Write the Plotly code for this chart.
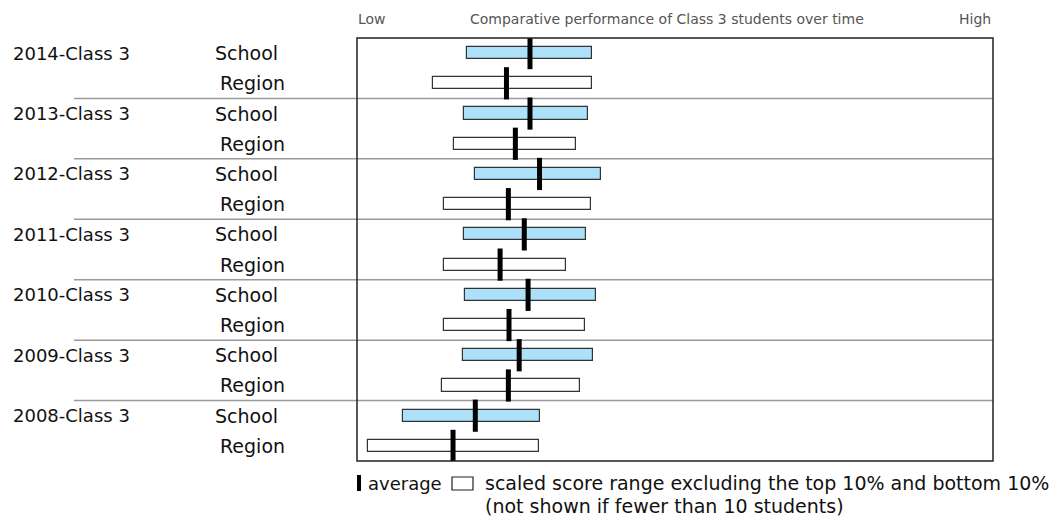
import plotly.graph_objects as go

# ---- data ----
years = ["2014", "2013", "2012", "2011", "2010", "2009", "2008"]
group_labels = [f"{y}-Class 3" for y in years]
series = ["School", "Region"]

school_low = [17.3, 16.9, 18.6, 16.8, 17.0, 16.7, 7.3]
school_high = [36.9, 36.3, 38.4, 36.0, 37.5, 37.1, 28.7]
school_avg = [27.2, 27.2, 28.7, 26.3, 26.9, 25.5, 18.6]

region_low = [11.9, 15.3, 13.6, 13.6, 13.7, 13.3, 1.8]
region_high = [36.9, 34.5, 36.8, 32.8, 35.9, 35.0, 28.6]
region_avg = [23.5, 24.9, 23.8, 22.5, 23.9, 23.8, 15.1]

header_low = "Low"
header_title = "Comparative performance of Class 3 students over time"
header_high = "High"
legend_avg = "average"
legend_range = "scaled score range excluding the top 10% and bottom 10%"
legend_note = "(not shown if fewer than 10 students)"

# ---- layout constants ----
W, H = 1053, 518
L, R, T, B = 357, 993, 38, 461
FONT = "DejaVu Sans"
BLUE = "#ADE1F9"
OUTLINE = "#333333"


def px_x(p):
    return (p - L) / (R - L)


def px_y(p):
    return (B - p) / (B - T)


n = len(years)
school_rows = [2 * i for i in range(n)]
region_rows = [2 * i + 1 for i in range(n)]

fig = go.Figure()

fig.add_trace(go.Bar(
    y=school_rows, x=[h - l for l, h in zip(school_low, school_high)], base=school_low,
    orientation="h", width=0.4, marker=dict(color=BLUE, line=dict(color=OUTLINE, width=1.2)),
    hoverinfo="skip", showlegend=False))
fig.add_trace(go.Bar(
    y=region_rows, x=[h - l for l, h in zip(region_low, region_high)], base=region_low,
    orientation="h", width=0.4, marker=dict(color="white", line=dict(color=OUTLINE, width=1.2)),
    hoverinfo="skip", showlegend=False))
fig.add_trace(go.Scatter(
    y=school_rows + region_rows, x=school_avg + region_avg, mode="markers",
    marker=dict(symbol="line-ns", size=23, line=dict(color="black", width=5)),
    hoverinfo="skip", showlegend=False))

shapes = []
annotations = []
# separators between groups
for i in range(1, n):
    yb = 2 * i - 0.5
    shapes.append(dict(type="line", xref="paper", yref="y", x0=px_x(74), x1=1, y0=yb, y1=yb,
                       line=dict(color="#9a9a9a", width=1.5), layer="below"))
# plot box
shapes.append(dict(type="rect", xref="paper", yref="paper", x0=0, x1=1, y0=0, y1=1,
                   line=dict(color="#222222", width=1.5)))

lab_font = dict(size=18, color="#111111", family=FONT)
ser_font = dict(size=19, color="#111111", family=FONT)
for i, g in enumerate(group_labels):
    annotations.append(dict(text=g, xref="paper", yref="y", x=px_x(11), y=2 * i, xanchor="left",
                            yanchor="middle", showarrow=False, font=lab_font))
    annotations.append(dict(text=series[0], xref="paper", yref="y", x=px_x(213), y=2 * i, xanchor="left",
                            yanchor="middle", showarrow=False, font=ser_font))
    annotations.append(dict(text=series[1], xref="paper", yref="y", x=px_x(218), y=2 * i + 1, xanchor="left",
                            yanchor="middle", showarrow=False, font=ser_font))

hdr_font = dict(size=14, color="#555555", family=FONT)
annotations += [
    dict(text=header_low, xref="paper", yref="paper", x=px_x(356), y=px_y(19), xanchor="left",
         yanchor="middle", showarrow=False, font=hdr_font),
    dict(text=header_title, xref="paper", yref="paper", x=px_x(468), y=px_y(19), xanchor="left",
         yanchor="middle", showarrow=False, font=hdr_font),
    dict(text=header_high, xref="paper", yref="paper", x=1, y=px_y(19), xanchor="right",
         yanchor="middle", showarrow=False, font=hdr_font),
]

# legend
avg_font = dict(size=18, color="#111111", family=FONT)
leg_font = dict(size=19, color="#111111", family=FONT)
shapes.append(dict(type="rect", xref="paper", yref="paper", x0=px_x(357), x1=px_x(361),
                   y0=px_y(491), y1=px_y(475), fillcolor="black", line=dict(width=0)))
shapes.append(dict(type="rect", xref="paper", yref="paper", x0=px_x(452), x1=px_x(473),
                   y0=px_y(490), y1=px_y(477), fillcolor="white", line=dict(color="#222222", width=1.2)))
annotations += [
    dict(text=legend_avg, xref="paper", yref="paper", x=px_x(366), y=px_y(483), xanchor="left",
         yanchor="middle", showarrow=False, font=avg_font),
    dict(text=legend_range, xref="paper", yref="paper", x=px_x(483), y=px_y(483), xanchor="left",
         yanchor="middle", showarrow=False, font=leg_font),
    dict(text=legend_note, xref="paper", yref="paper", x=px_x(483), y=px_y(506), xanchor="left",
         yanchor="middle", showarrow=False, font=leg_font),
]

fig.update_layout(
    width=W, height=H,
    margin=dict(l=L, r=W - R, t=T, b=H - B, pad=0),
    paper_bgcolor="white", plot_bgcolor="white",
    xaxis=dict(range=[0, 100], visible=False, fixedrange=True),
    yaxis=dict(range=[2 * n - 0.5, -0.5], visible=False, fixedrange=True),
    shapes=shapes, annotations=annotations, bargap=0,
)

fig.write_html("out.html", config={"displayModeBar": False},
               post_script="document.body.style.margin='0';document.body.style.overflow='hidden';")
